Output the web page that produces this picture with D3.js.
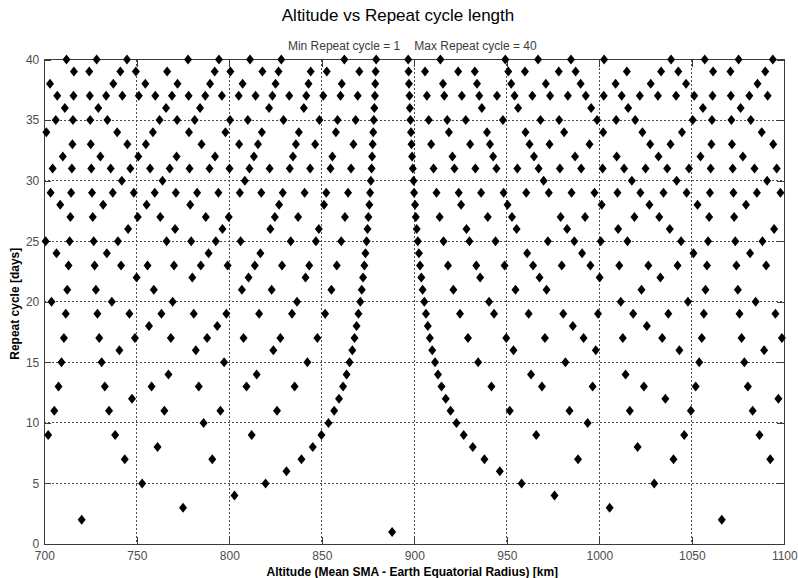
<!DOCTYPE html>
<html>
<head>
<meta charset="utf-8">
<script src="https://cdn.jsdelivr.net/npm/d3@7/dist/d3.min.js"></script>
<style>
  html, body { margin: 0; padding: 0; background: #fff; }
  svg { display: block; }
</style>
</head>
<body>
<svg id="chart" width="798" height="578"></svg>
<script>
// ---------------- DATA ----------------
const chartTitle = "Altitude vs Repeat cycle length";
const subtitleLeft = "Min Repeat cycle = 1";
const subtitleRight = "Max Repeat cycle = 40";
const xLabel = "Altitude (Mean SMA - Earth Equatorial Radius) [km]";
const yLabel = "Repeat cycle [days]";

const xTicks = [700, 750, 800, 850, 900, 950, 1000, 1050, 1100];
const yTicks = [0, 5, 10, 15, 20, 25, 30, 35, 40];

const repeatCycles = [1,2,3,4,5,6,7,8,9,10,11,12,13,14,15,16,17,18,19,20,
                      21,22,23,24,25,26,27,28,29,30,31,32,33,34,35,36,37,38,39,40];

// altitudes [km] of the repeat orbits found for each repeat cycle (same order as repeatCycles)
const altitudesByCycle = [
  [888.0],
  [720.2, 1066.2],
  [775.0, 1005.6],
  [802.8, 975.8],
  [752.9, 819.6, 958.0, 1029.7],
  [830.9, 946.2],
  [743.5, 790.8, 839.0, 937.9, 988.5, 1040.1, 1092.4],
  [761.2, 845.1, 931.6, 1020.7],
  [702.1, 738.3, 812.1, 849.8, 926.7, 965.9, 1045.9, 1086.6],
  [786.1, 853.6, 922.8, 993.7],
  [705.4, 735.0, 764.9, 795.2, 825.8, 856.7, 919.6, 951.6, 983.9, 1016.5, 1049.5, 1082.9],
  [747.4, 859.3, 917.0, 1035.7, 1096.8],
  [707.7, 732.7, 758.0, 783.5, 809.3, 835.3, 861.5, 914.7, 941.7, 969.0, 996.4, 1024.1, 1052.1, 1080.3],
  [767.1, 814.8, 863.4, 912.8, 963.1, 1014.2],
  [709.3, 731.0, 797.2, 842.2, 865.0, 911.2, 934.5, 981.7, 1054.0, 1078.4],
  [740.6, 781.9, 823.8, 866.5, 909.7, 953.6, 998.1, 1043.3, 1089.1],
  [710.6, 729.7, 749.0, 768.4, 788.0, 807.7, 827.6, 847.6, 867.7, 908.4, 929.0, 949.7, 970.6, 991.5, 1012.7, 1034.0, 1055.4, 1076.9, 1098.7],
  [756.6, 793.5, 868.8, 907.3, 985.7, 1025.7],
  [711.6, 728.7, 746.0, 763.3, 780.8, 798.4, 816.1, 833.9, 851.8, 869.8, 906.3, 924.7, 943.1, 961.8, 980.5, 999.3, 1018.3, 1037.3, 1056.5, 1075.8, 1095.2],
  [703.9, 736.5, 769.4, 836.6, 870.8, 905.4, 940.4, 1011.6, 1047.9, 1084.5],
  [712.4, 727.9, 759.2, 806.8, 822.9, 855.2, 871.6, 904.5, 921.1, 954.7, 971.5, 1022.8, 1057.4, 1074.9],
  [749.9, 780.0, 810.4, 841.2, 872.3, 903.8, 935.6, 967.7, 1000.2, 1033.0],
  [713.1, 727.2, 741.5, 755.8, 770.1, 784.6, 799.1, 813.8, 828.5, 843.2, 858.1, 873.0, 903.1, 918.2, 933.5, 948.8, 964.2, 979.7, 995.2, 1010.8, 1026.5, 1042.3, 1058.2, 1074.1, 1090.2],
  [706.6, 733.8, 788.8, 816.8, 873.6, 902.5, 961.0, 990.7, 1050.9, 1081.5],
  [700.7, 713.7, 726.7, 739.8, 766.1, 779.4, 792.7, 806.1, 833.2, 846.8, 860.5, 874.2, 901.9, 915.8, 929.8, 943.9, 972.2, 986.5, 1000.8, 1015.2, 1044.2, 1058.8, 1073.5, 1088.2],
  [745.3, 770.7, 796.3, 822.2, 848.4, 874.7, 901.3, 928.2, 955.3, 982.6, 1010.2, 1038.1, 1094.5],
  [714.1, 726.2, 750.5, 762.7, 787.3, 799.7, 824.6, 837.2, 862.5, 875.2, 900.8, 913.7, 939.7, 952.8, 979.1, 992.3, 1019.0, 1032.4, 1059.4, 1072.9],
  [708.6, 731.8, 755.3, 778.9, 826.9, 851.2, 875.7, 900.4, 925.3, 950.4, 1001.3, 1027.1, 1053.1, 1079.3],
  [703.4, 714.5, 725.8, 737.0, 748.4, 759.7, 771.1, 782.6, 794.1, 805.7, 817.3, 828.9, 840.7, 852.4, 864.2, 876.1, 899.9, 912.0, 924.0, 936.1, 948.3, 960.5, 972.7, 985.0, 997.4, 1009.8, 1022.2, 1034.7, 1047.2, 1059.8, 1072.5, 1085.2, 1097.9],
  [741.9, 763.9, 808.4, 876.5, 899.6, 969.9, 1017.6, 1041.8, 1090.7],
  [704.5, 714.9, 725.4, 735.9, 746.5, 757.2, 767.8, 778.5, 789.3, 800.1, 810.9, 821.8, 832.7, 843.7, 854.7, 865.8, 876.9, 899.2, 910.4, 921.7, 933.0, 944.4, 955.7, 967.2, 978.7, 990.2, 1001.8, 1013.4, 1025.0, 1036.7, 1048.5, 1060.2, 1072.1, 1083.9, 1095.9],
  [710.0, 730.3, 750.8, 771.5, 792.3, 813.3, 834.4, 855.7, 877.2, 898.8, 920.6, 942.6, 964.7, 986.9, 1009.4, 1032.0, 1054.7, 1077.6],
  [715.2, 725.1, 744.9, 754.9, 785.0, 805.3, 815.5, 836.0, 846.4, 867.1, 877.5, 898.5, 909.1, 930.2, 940.9, 962.3, 973.1, 994.7, 1027.5, 1038.5, 1060.6, 1071.7, 1094.0],
  [701.1, 739.4, 758.7, 778.2, 797.9, 817.6, 837.6, 857.6, 877.8, 898.2, 918.7, 939.3, 960.1, 981.0, 1002.1, 1023.3, 1044.7, 1087.8],
  [706.2, 715.5, 724.8, 734.1, 762.3, 771.8, 781.3, 800.4, 810.0, 829.3, 848.7, 858.5, 868.3, 878.1, 897.9, 907.8, 917.8, 927.8, 947.9, 968.2, 978.3, 998.8, 1009.1, 1019.4, 1050.5, 1060.9, 1071.4, 1081.9],
  [711.1, 729.2, 765.8, 784.2, 821.5, 840.3, 878.4, 897.6, 936.5, 956.1, 995.6, 1015.6, 1056.0, 1076.4],
  [707.0, 715.8, 724.6, 733.4, 742.2, 751.1, 760.0, 769.0, 778.0, 787.0, 796.0, 805.1, 814.2, 823.3, 832.4, 841.6, 850.8, 860.1, 869.4, 878.7, 897.4, 906.8, 916.2, 925.7, 935.1, 944.7, 954.2, 963.8, 973.4, 983.0, 992.7, 1002.4, 1012.1, 1021.9, 1031.7, 1041.5, 1051.3, 1061.2, 1071.1, 1081.1, 1091.0],
  [703.1, 737.3, 754.6, 772.0, 789.6, 807.2, 825.0, 842.8, 860.8, 878.9, 897.1, 915.5, 933.9, 952.4, 971.1, 989.9, 1008.8, 1027.8, 1046.9, 1085.5],
  [716.0, 724.3, 741.1, 749.5, 766.4, 792.1, 800.6, 817.9, 826.6, 844.0, 852.7, 870.3, 879.1, 896.9, 905.8, 923.7, 932.7, 950.8, 959.8, 978.1, 987.2, 1014.9, 1033.4, 1042.7, 1061.5, 1070.9, 1089.7],
  [712.0, 728.3, 744.7, 777.7, 794.4, 811.2, 828.1, 862.2, 879.4, 896.7, 914.1, 949.2, 966.9, 984.7, 1002.6, 1038.8, 1057.0, 1075.3, 1093.8]
];

// ---------------- CHART ----------------
const svg = d3.select("#chart");
const W = 798, H = 578;
const plot = { left: 44.3, right: 784.3, top: 59.5, bottom: 544 };

const x = d3.scaleLinear().domain([700, 1100]).range([plot.left, plot.right]);
const y = d3.scaleLinear().domain([0, 40]).range([plot.bottom, plot.top]);

svg.append("rect").attr("width", W).attr("height", H).attr("fill", "#ffffff");

const tickFont = "'Liberation Sans Narrow', 'Arial Narrow', 'Liberation Sans', Arial, sans-serif";
const gridColor = "#4a4a4a";
const axisColor = "#3a3a3a";

// grid lines
const grid = svg.append("g").attr("class", "grid");
grid.selectAll("line.gx")
  .data(xTicks.slice(1, -1))
  .join("line")
  .attr("x1", d => x(d)).attr("x2", d => x(d))
  .attr("y1", plot.top).attr("y2", plot.bottom)
  .attr("stroke", gridColor).attr("stroke-width", 1)
  .attr("stroke-dasharray", "2,2")
  .attr("shape-rendering", "crispEdges");
grid.selectAll("line.gy")
  .data(yTicks.slice(1, -1))
  .join("line")
  .attr("y1", d => y(d)).attr("y2", d => y(d))
  .attr("x1", plot.left).attr("x2", plot.right)
  .attr("stroke", gridColor).attr("stroke-width", 1)
  .attr("stroke-dasharray", "2,2")
  .attr("shape-rendering", "crispEdges");

// axes (inward ticks on all four sides)
function styleAxis(g, showText) {
  g.select(".domain").remove();
  g.selectAll(".tick line").attr("stroke", axisColor).attr("shape-rendering", "crispEdges");
  g.selectAll(".tick text")
    .attr("fill", "#4d4d4d")
    .style("font-family", tickFont)
    .style("font-size", "12px");
  if (!showText) g.selectAll(".tick text").remove();
}

svg.append("g")
  .attr("transform", `translate(0,${plot.bottom})`)
  .call(d3.axisBottom(x).tickValues(xTicks).tickSize(-7).tickPadding(7).tickFormat(d3.format("d")))
  .call(g => styleAxis(g, true));

svg.append("g")
  .attr("transform", `translate(0,${plot.top})`)
  .call(d3.axisTop(x).tickValues(xTicks).tickSize(-7))
  .call(g => styleAxis(g, false));

svg.append("g")
  .attr("transform", `translate(${plot.left},0)`)
  .call(d3.axisLeft(y).tickValues(yTicks).tickSize(-7).tickPadding(5).tickFormat(d3.format("d")))
  .call(g => styleAxis(g, true));

svg.append("g")
  .attr("transform", `translate(${plot.right},0)`)
  .call(d3.axisRight(y).tickValues(yTicks).tickSize(-7))
  .call(g => styleAxis(g, false));

// frame
svg.append("rect")
  .attr("x", plot.left).attr("y", plot.top)
  .attr("width", plot.right - plot.left).attr("height", plot.bottom - plot.top)
  .attr("fill", "none").attr("stroke", axisColor).attr("stroke-width", 1)
  .attr("shape-rendering", "crispEdges");

// points
const points = [];
repeatCycles.forEach((d, i) => {
  altitudesByCycle[i].forEach(a => points.push({ alt: a, days: d }));
});

const diamond = "M0,-5L4,0L0,5L-4,0Z";
svg.append("g").attr("class", "points")
  .selectAll("path")
  .data(points)
  .join("path")
  .attr("d", diamond)
  .attr("transform", p => `translate(${x(p.alt)},${y(p.days)})`)
  .attr("fill", "#000000");

// title (centered on figure)
svg.append("text")
  .attr("x", W / 2 - 1).attr("y", 21)
  .attr("text-anchor", "middle")
  .style("font-family", "'Liberation Sans', Arial, sans-serif")
  .style("font-size", "17px")
  .attr("fill", "#000")
  .text(chartTitle);

// subtitle (centered on axes)
const cx = (plot.left + plot.right) / 2;
svg.append("text")
  .attr("x", cx - 14).attr("y", 49.5)
  .attr("text-anchor", "end")
  .style("font-family", "'Liberation Sans', Arial, sans-serif")
  .style("font-size", "12px")
  .attr("fill", "#3c3c3c")
  .text(subtitleLeft);
svg.append("text")
  .attr("x", cx).attr("y", 49.5)
  .attr("text-anchor", "start")
  .style("font-family", "'Liberation Sans', Arial, sans-serif")
  .style("font-size", "12px")
  .attr("fill", "#3c3c3c")
  .text(subtitleRight);

// axis labels
svg.append("text")
  .attr("x", cx - 2).attr("y", 575.5)
  .attr("text-anchor", "middle")
  .style("font-family", "'Liberation Sans', Arial, sans-serif")
  .style("font-size", "12px")
  .style("font-weight", "bold")
  .attr("fill", "#000")
  .text(xLabel);

svg.append("text")
  .attr("transform", `translate(18.5,${(plot.top + plot.bottom) / 2 + 2}) rotate(-90)`)
  .attr("text-anchor", "middle")
  .style("font-family", "'Liberation Sans', Arial, sans-serif")
  .style("font-size", "12px")
  .style("font-weight", "bold")
  .attr("fill", "#000")
  .text(yLabel);
</script>
</body>
</html>
